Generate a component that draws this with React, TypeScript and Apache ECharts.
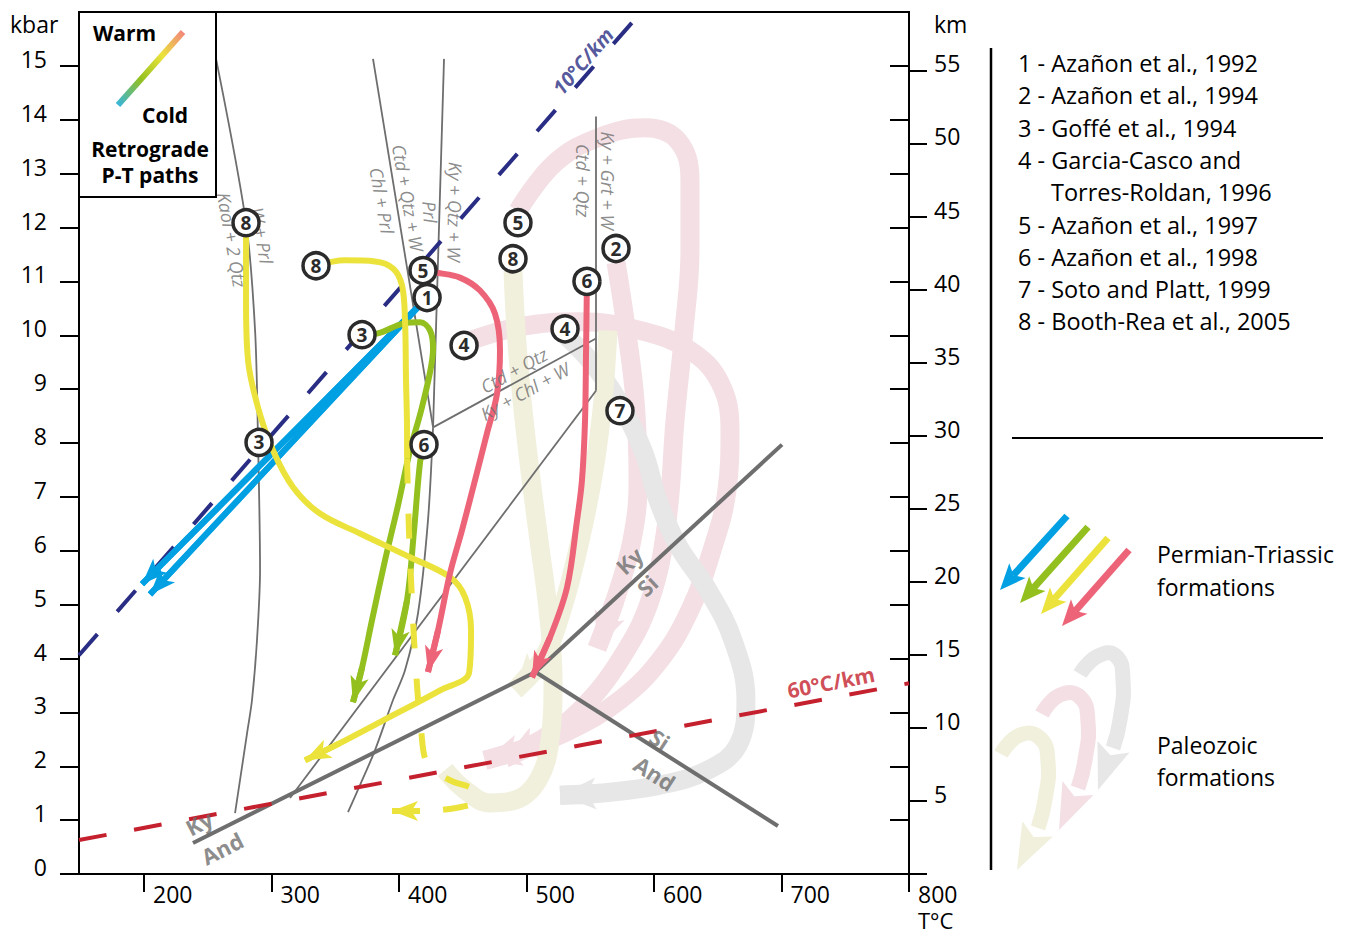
import React, { useEffect, useRef } from 'react';
import * as echarts from 'echarts';

type Pt = [number, number];

// ---------- axes ----------
const tempTicks = [200, 300, 400, 500, 600, 700, 800];
const kbarTicks = [0, 1, 2, 3, 4, 5, 6, 7, 8, 9, 10, 11, 12, 13, 14, 15];
const kbarInnerTicks = [1, 2, 3, 4, 5, 6, 7, 8, 9, 10, 11, 12, 13, 14, 15];
const kmTicks = [0, 5, 10, 15, 20, 25, 30, 35, 40, 45, 50, 55];
const kmLabels = [5, 10, 15, 20, 25, 30, 35, 40, 45, 50, 55];

// ---------- reaction curves (T °C, P kbar) ----------
const kaolPrl: Pt[] = [[256.5, 15.13], [280.0, 12.09], [287.1, 10.09], [289.4, 8.05], [291.0, 5.64], [288.6, 4.34], [284.7, 3.23], [280.8, 2.61], [271.4, 1.13]];
const chlPrlCtd: Pt[] = [[379.6, 15.13], [426.7, 8.29]];
const prlKy: Pt[] = [[435.3, 15.13], [426.7, 8.29]];
const lowerBranch: Pt[] = [[426.7, 8.29], [422.7, 6.56], [414.9, 4.84], [404.7, 3.78], [395.3, 3.23], [381.2, 2.30], [369.4, 1.65], [360.0, 1.15]];
const ctdKyChl: Pt[] = [[426.7, 8.29], [554.5, 9.94]];
const ctdKyGrt: Pt[] = [[554.5, 14.06], [554.5, 8.97]];
const longBranch: Pt[] = [[554.5, 8.97], [314.5, 1.41]];
// Al2SiO5 triple point
const kyAnd: Pt[] = [[238.4, 0.575], [507.0, 3.75]];
const kySi: Pt[] = [[507.0, 3.75], [700.4, 7.97]];
const siAnd: Pt[] = [[507.0, 3.75], [697.2, 0.89]];
// geotherms
const geotherm10: Pt[] = [[149, 4.06], [590, 16.0]];
const geotherm60: Pt[] = [[149, 0.63], [800, 3.54]];

// ---------- Permian-Triassic retrograde P-T paths ----------
const blueA: Pt[] = [[422.0, 10.70], [198.4, 5.38]];
const blueB: Pt[] = [[422.0, 10.70], [204.7, 5.19]];
const greenA: Pt[] = [[371.0, 10.01], [382.7, 10.03], [403.9, 10.22], [416.5, 10.24], [424.3, 10.09], [426.7, 9.75], [424.3, 9.31], [417.3, 8.60], [408.6, 7.86], [399.2, 6.84], [389.0, 5.82], [378.8, 4.71], [370.9, 3.82], [363.9, 3.19]];
const greenB: Pt[] = [[419.6, 7.97], [416.5, 7.64], [411.8, 6.38], [406.3, 5.08], [396.9, 4.06]];
const yellowA: Pt[] = [[280.0, 12.09], [280.0, 11.39], [280.0, 10.64], [281.6, 9.53], [289.4, 8.66], [301.2, 7.86], [316.9, 7.18], [338.0, 6.69], [369.4, 6.32], [408.6, 5.88], [440.0, 5.51], [451.8, 5.14], [456.5, 4.52], [454.9, 3.73], [432.2, 3.41], [385.1, 2.82], [353.7, 2.43], [326.3, 2.11]];
const yellowB: Pt[] = [[334.9, 11.29], [357.6, 11.39], [381.2, 11.37], [395.3, 11.24], [402.4, 10.92], [404.7, 10.27], [405.5, 9.16], [406.3, 8.23], [406.3, 7.71]];
const yellowDashed: Pt[] = [[406.3, 7.71], [407.8, 6.38], [410.2, 5.08], [413.3, 3.78], [417.3, 2.67], [422.7, 2.02], [440.0, 1.74], [459.6, 1.56], [462.0, 1.37], [447.8, 1.24], [416.5, 1.17], [394.5, 1.17]];
const redA: Pt[] = [[418.8, 11.20], [429.8, 11.16], [447.8, 11.07], [463.5, 10.83], [475.3, 10.40], [479.2, 9.72], [476.9, 8.92], [469.0, 8.18], [459.6, 7.31], [449.4, 6.38], [440.0, 5.58], [430.6, 4.52], [422.7, 3.75]];
const redB: Pt[] = [[547.4, 11.0], [546.7, 9.72], [545.9, 8.42], [543.5, 7.31], [539.6, 6.56], [531.8, 5.32], [518.4, 4.39], [504.3, 3.65]];

// ---------- Paleozoic retrograde P-T paths ----------
const pinkHook: Pt[] = [[493.3, 12.31], [522.3, 13.20], [557.6, 13.68], [592.9, 13.85], [618.8, 13.61], [628.2, 12.87], [628.2, 11.57], [623.5, 10.09], [616.5, 8.42], [610.2, 6.56], [596.9, 5.08], [573.3, 3.97], [542.0, 3.04], [510.6, 2.48], [483.1, 2.15]];
const pinkLoop: Pt[] = [[455.7, 9.90], [494.9, 10.16], [542.0, 10.25], [589.0, 10.09], [628.2, 9.72], [651.8, 9.12], [659.6, 8.23], [657.2, 7.12], [645.5, 6.01], [628.2, 4.90], [604.7, 3.97], [573.3, 3.23], [534.1, 2.67], [494.9, 2.30], [467.4, 2.11]];
const pinkShort: Pt[] = [[570.2, 11.35], [577.3, 10.27], [585.1, 8.79], [587.5, 7.31], [582.7, 6.19], [569.4, 5.08], [555.3, 4.19]];
const beigeA: Pt[] = [[489.4, 11.20], [491.8, 10.09], [496.5, 8.79], [502.7, 7.49], [509.8, 6.19], [516.9, 4.90], [520.8, 3.60], [518.4, 2.48], [509.0, 1.74], [491.0, 1.37], [471.4, 1.32], [451.8, 1.56], [436.1, 1.93]];
const beigeB: Pt[] = [[563.9, 10.09], [560.0, 8.79], [552.9, 7.49], [542.0, 6.19], [527.8, 4.90], [512.2, 3.97], [491.0, 3.41]];
const grayA: Pt[] = [[526.3, 10.09], [549.8, 9.53], [571.8, 8.79], [591.4, 7.86], [603.1, 6.94], [618.8, 6.10], [642.3, 5.27], [661.9, 4.34], [672.1, 3.23], [665.9, 2.39], [642.3, 1.93], [604.7, 1.65], [557.6, 1.50], [526.3, 1.46]];

// ---------- numbered references on the paths ----------
const markerLabels = ['8', '8', '5', '1', '3', '4', '3', '6', '5', '8', '6', '2', '4', '7'];
const markerAt: Pt[] = [[280.0, 12.09], [334.9, 11.29], [418.8, 11.20], [422.0, 10.70], [371.0, 10.01], [451.0, 9.81], [290.2, 8.01], [419.6, 7.97], [493.3, 12.09], [489.4, 11.42], [547.4, 11.0], [570.2, 11.61], [530.2, 10.12], [573.3, 8.60]];

// ---------- reaction / field labels ----------
const reactionText = ['Kaol + 2 Qtz', 'W + Prl', 'Chl + Prl', 'Ctd + Qtz + W', 'Prl', 'Ky + Qtz + W', 'Ctd + Qtz', 'Ky + Grt + W', 'Ctd + Qtz', 'Ky + Chl + W'];
const reactionAt: Pt[] = [[269.0, 11.77], [292.5, 11.85], [386.7, 12.50], [407.1, 12.55], [424.3, 12.29], [443.9, 12.29], [544.3, 12.87], [563.9, 12.87], [490.2, 9.35], [498.8, 8.96]];
const reactionAngle = [-80, -80, -80, -80, -86, -91, -90, -90, 29, 29];
const mineralText = ['Ky', 'And', 'Ky', 'Si', 'Si', 'And'];
const mineralAt: Pt[] = [[243.1, 0.95], [261.2, 0.48], [580.4, 5.82], [594.5, 5.36], [604.7, 2.50], [600.8, 1.87]];
const mineralAngle = [27, 27, 43, 43, -33, -33];
const geothermText = ['10°C/km', '60°C/km'];
const geothermAt: Pt[] = [[544.3, 15.09], [738.8, 3.56]];

// ---------- side legend ----------
const references = ['1 - Azañon et al., 1992', '2 - Azañon et al., 1994', '3 - Goffé et al., 1994', '4 - Garcia-Casco and', 'Torres-Roldan, 1996', '5 - Azañon et al., 1997', '6 - Azañon et al., 1998', '7 - Soto and Platt, 1999', '8 - Booth-Rea et al., 2005'];

const FONT = "'Open Sans', 'Noto Sans', sans-serif";
const GREY = '#6e6e6e';
const BLUE = '#00a0e3';
const GREEN = '#93c01f';
const YELLOW = '#ebe33b';
const RED = '#ed6479';
const PINK = '#f3dfe4';
const BEIGE = '#f1f0dd';
const LGRAY = '#e7e7e7';
const NAVY = '#2a2d84';
const DRED = '#c4202d';

function lineS(data: Pt[], color: string, width: number, z: number, smooth: number | boolean = false, type: any = 'solid') {
  return {
    type: 'line', data, z, smooth, symbol: 'none', showSymbol: false, silent: true,
    lineStyle: { color, width, type, cap: 'butt', join: 'round' },
  };
}
function arrowS(data: Pt[], color: string, width: number, size: [number, number], z: number) {
  const n = data.length;
  return {
    type: 'lines', coordinateSystem: 'cartesian2d', z, silent: true,
    symbol: ['none', 'arrow'], symbolSize: [0, size],
    lineStyle: { color, width, opacity: 1 },
    data: [{ coords: [data[n - 2], data[n - 1]] }],
  };
}
function headPoly(tail: Pt, tip: Pt, len: number, half: number, notch: number) {
  const dx = tip[0] - tail[0], dy = tip[1] - tail[1];
  const L = Math.hypot(dx, dy); const ux = dx / L, uy = dy / L; const nx = -uy, ny = ux;
  const bx = tip[0] - ux * len, by = tip[1] - uy * len;
  return [[tip[0], tip[1]], [bx + nx * half, by + ny * half], [tip[0] - ux * (len - notch), tip[1] - uy * (len - notch)], [bx - nx * half, by - ny * half]];
}
function legendArrow(tail: Pt, tip: Pt, color: string) {
  const dx = tip[0] - tail[0], dy = tip[1] - tail[1];
  const L = Math.hypot(dx, dy);
  const end: Pt = [tip[0] - dx / L * 20, tip[1] - dy / L * 20];
  return [
    { type: 'line', shape: { x1: tail[0], y1: tail[1], x2: end[0], y2: end[1] }, style: { stroke: color, lineWidth: 7 } },
    { type: 'polygon', shape: { points: headPoly(tail, tip, 26, 11, 6) }, style: { fill: color } },
  ];
}
function legendHook(pts: Pt[], tip: Pt, color: string) {
  return [
    { type: 'polyline', shape: { points: pts, smooth: 0.5 }, style: { stroke: color, lineWidth: 15, fill: null } },
    { type: 'polygon', shape: { points: headPoly(pts[pts.length - 1], tip, 46, 17, 9) }, style: { fill: color } },
  ];
}
function txt(text: string, x: number, y: number, size: number, opts: any = {}) {
  return {
    type: 'text', x, y, z: 120,
    style: { text, fill: opts.color || '#000', fontSize: size, lineHeight: opts.lh || size, fontFamily: FONT, fontWeight: opts.weight || 'normal', align: opts.align || 'left', verticalAlign: 'middle', textAlign: opts.align || 'left', textVerticalAlign: 'middle' },
  };
}

function buildOption(): any {
  const axisFont = { fontFamily: FONT, fontSize: 23, color: '#000' };
  const PAL: [number, number] = [24, 36];
  const COL: [number, number] = [14, 26];
  const series: any[] = [
    // Paleozoic bands
    lineS(pinkHook, PINK, 19, 1, 0.4), arrowS(pinkHook, PINK, 19, PAL, 1),
    lineS(pinkLoop, PINK, 19, 1, 0.4), arrowS(pinkLoop, PINK, 19, PAL, 1),
    lineS(pinkShort, PINK, 19, 1, 0.4), arrowS(pinkShort, PINK, 19, PAL, 1),
    lineS(grayA, LGRAY, 19, 1, 0.4), arrowS(grayA, LGRAY, 19, PAL, 1),
    lineS(beigeA, BEIGE, 19, 1, 0.4),
    lineS(beigeB, BEIGE, 19, 1, 0.4), arrowS(beigeB, BEIGE, 19, PAL, 1),
    // reaction lines
    lineS(kaolPrl, GREY, 1.8, 3, 0.3),
    lineS(chlPrlCtd, GREY, 1.8, 3),
    lineS(prlKy, GREY, 1.8, 3),
    lineS(lowerBranch, GREY, 1.8, 3, 0.3),
    lineS(ctdKyChl, GREY, 1.8, 3),
    lineS(ctdKyGrt, GREY, 1.8, 3),
    lineS(longBranch, GREY, 1.8, 3),
    lineS(kyAnd, GREY, 4, 3), lineS(kySi, GREY, 4, 3), lineS(siAnd, GREY, 4, 3),
    // geotherms
    lineS(geotherm10, NAVY, 4, 4, false, [28, 30]),
    lineS(geotherm60, DRED, 4, 4, false, [28, 28]),
    // Permian-Triassic paths
    lineS(blueA, BLUE, 6, 5), arrowS(blueA, BLUE, 6, [15, 26], 5),
    lineS(blueB, BLUE, 6, 5), arrowS(blueB, BLUE, 6, [15, 26], 5),
    lineS(greenA, GREEN, 6, 6, 0.35), arrowS(greenA, GREEN, 6, COL, 6),
    lineS(greenB, GREEN, 6, 6, 0.35), arrowS(greenB, GREEN, 6, COL, 6),
    lineS(yellowA, YELLOW, 6, 7, 0.35), arrowS(yellowA, YELLOW, 6, [15, 26], 7),
    lineS(yellowB, YELLOW, 6, 7, 0.35),
    lineS(yellowDashed, YELLOW, 6, 7, 0.35, [25, 30]), arrowS(yellowDashed, YELLOW, 6, [15, 26], 7),
    lineS(redA, RED, 6, 8, 0.35), arrowS(redA, RED, 6, COL, 8),
    lineS(redB, RED, 6, 8, 0.35), arrowS(redB, RED, 6, COL, 8),
    // reaction labels
    {
      type: 'scatter', z: 12, silent: true, symbolSize: 1, itemStyle: { color: 'transparent' },
      label: { show: true, position: 'inside', formatter: '{b}', fontFamily: FONT, fontStyle: 'italic', fontSize: 18, color: GREY },
      data: reactionText.map((s, i) => ({ name: s, value: reactionAt[i], label: { rotate: reactionAngle[i] } })),
    },
    {
      type: 'scatter', z: 12, silent: true, symbolSize: 1, itemStyle: { color: 'transparent' },
      label: { show: true, position: 'inside', formatter: '{b}', fontFamily: FONT, fontWeight: 'bold', fontSize: 22, color: GREY },
      data: mineralText.map((s, i) => ({ name: s, value: mineralAt[i], label: { rotate: mineralAngle[i] } })),
    },
    {
      type: 'scatter', z: 12, silent: true, symbolSize: 1, itemStyle: { color: 'transparent' },
      label: { show: true, position: 'inside', formatter: '{b}', fontFamily: FONT, fontWeight: 'bold', fontSize: 20 },
      data: [
        { name: geothermText[0], value: geothermAt[0], label: { rotate: 49, color: NAVY, fontStyle: 'italic' } },
        { name: geothermText[1], value: geothermAt[1], label: { rotate: 11, color: DRED, fontSize: 21 } },
      ],
    },
    // numbered circles
    {
      type: 'scatter', z: 20, silent: true, symbol: 'circle', symbolSize: 26,
      itemStyle: { color: '#ffffff', borderColor: '#2b2b2b', borderWidth: 3.5, opacity: 1 },
      label: { show: true, position: 'inside', formatter: '{b}', fontFamily: FONT, fontWeight: 'bold', fontSize: 19, color: '#2b2b2b' },
      data: markerLabels.map((s, i) => ({ name: s, value: markerAt[i] })),
    },
  ];

  const graphics: any[] = [
    // legend box
    { type: 'rect', z: 100, shape: { x: 79, y: 12, width: 137, height: 185 }, style: { fill: '#fff', stroke: '#000', lineWidth: 2 } },
    {
      type: 'line', z: 110, shape: { x1: 118, y1: 105, x2: 183, y2: 32 },
      style: {
        lineWidth: 6,
        stroke: new echarts.graphic.LinearGradient(0, 1, 1, 0, [
          { offset: 0, color: '#38b5dc' }, { offset: 0.35, color: '#93c01f' }, { offset: 0.68, color: '#ebe33b' }, { offset: 1, color: '#f2877a' },
        ]),
      },
    },
    txt('Warm', 93, 33, 21, { weight: 'bold' }),
    txt('Cold', 142, 115, 21, { weight: 'bold' }),
    txt('Retrograde', 150, 149, 21, { weight: 'bold', align: 'center', lh: 18 }),
    txt('P-T paths', 150, 175, 21, { weight: 'bold', align: 'center', lh: 18 }),
    // axis names
    txt('kbar', 10, 24, 23),
    txt('km', 934, 24, 23),
    txt('T°C', 918, 920, 22, { lh: 14 }),
    // side panel
    { type: 'line', z: 100, shape: { x1: 991, y1: 48, x2: 991, y2: 870 }, style: { stroke: '#000', lineWidth: 2.5 } },
    { type: 'line', z: 100, shape: { x1: 1012, y1: 438, x2: 1323, y2: 438 }, style: { stroke: '#000', lineWidth: 2 } },
    ...references.map((r, i) => txt(r, i === 4 ? 1051 : 1018, 63 + i * 32.3, 23.5)),
    ...legendArrow([1067, 516], [1000, 590], BLUE),
    ...legendArrow([1088, 527], [1020, 603], GREEN),
    ...legendArrow([1108, 538], [1041, 614], YELLOW),
    ...legendArrow([1129, 550], [1062, 626], RED),
    txt('Permian-Triassic', 1157, 554, 23),
    txt('formations', 1157, 587, 23),
    ...legendHook([[1080, 674], [1098, 656], [1116, 656], [1123, 680], [1120, 720], [1113, 748]], [1098, 790], LGRAY),
    ...legendHook([[1042, 714], [1060, 695], [1080, 697], [1088, 722], [1085, 760], [1078, 788]], [1059, 830], PINK),
    ...legendHook([[1001, 754], [1020, 735], [1040, 738], [1048, 762], [1045, 800], [1038, 828]], [1017, 870], BEIGE),
    txt('Paleozoic', 1157, 745, 23),
    txt('formations', 1157, 777, 23),
  ];

  return {
    animation: false,
    backgroundColor: '#ffffff',
    grid: { left: 79, right: 442, top: 12, bottom: 59, show: true, borderColor: '#000', borderWidth: 2, containLabel: false },
    xAxis: {
      type: 'value', min: 149, max: 800, position: 'bottom',
      axisLine: { show: true, onZero: false, lineStyle: { color: '#000', width: 2 } },
      axisTick: { show: true, length: 18, lineStyle: { color: '#000', width: 2 }, customValues: tempTicks },
      axisLabel: { ...axisFont, customValues: tempTicks, align: 'left', verticalAlign: 'middle', lineHeight: 14, padding: [0, 0, 0, 9], margin: 20 },
      splitLine: { show: false },
    },
    yAxis: [
      {
        type: 'value', min: 0, max: 16, position: 'left',
        axisLine: { show: true, onZero: false, lineStyle: { color: '#000', width: 2 } },
        axisTick: { show: true, length: 19, lineStyle: { color: '#000', width: 2 }, customValues: kbarTicks },
        axisLabel: { ...axisFont, customValues: kbarTicks, align: 'right', verticalAlign: 'bottom', lineHeight: 14, margin: 32 },
        splitLine: { show: false },
      },
      {
        type: 'value', min: 0, max: 59, position: 'right',
        axisLine: { show: true, onZero: false, lineStyle: { color: '#000', width: 2 } },
        axisTick: { show: true, length: 18, lineStyle: { color: '#000', width: 2 }, customValues: kmTicks },
        axisLabel: { ...axisFont, customValues: kmLabels, align: 'left', verticalAlign: 'bottom', lineHeight: 14, margin: 25 },
        splitLine: { show: false },
      },
      {
        type: 'value', min: 0, max: 16, position: 'right',
        axisLine: { show: false, onZero: false },
        axisTick: { show: true, inside: true, length: 19, lineStyle: { color: '#000', width: 2 }, customValues: kbarInnerTicks },
        axisLabel: { show: false },
        splitLine: { show: false },
      },
    ],
    series,
    graphic: { elements: graphics },
  };
}

export default function App() {
  const ref = useRef<HTMLDivElement>(null);
  useEffect(() => {
    if (!ref.current) return;
    const chart = echarts.init(ref.current, undefined, { renderer: 'svg' });
    chart.setOption(buildOption());
    return () => chart.dispose();
  }, []);
  return <div ref={ref} style={{ position: 'absolute', left: 0, top: 0, width: 1351, height: 933, background: '#fff' }} />;
}
